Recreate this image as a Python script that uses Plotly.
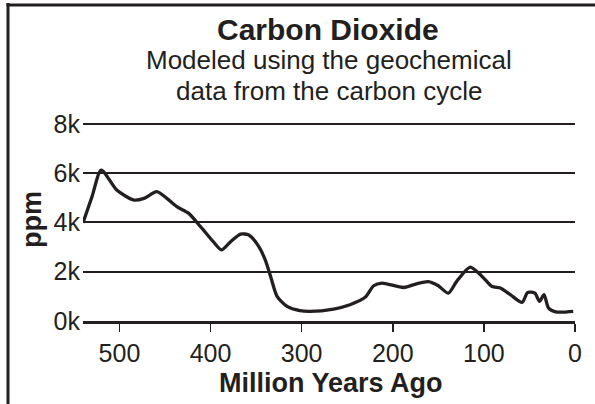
import plotly.graph_objects as go

# Data (million years ago, CO2 ppm)
ma = [540, 530, 520, 503, 484, 473, 459, 448, 437, 424, 411, 397, 388, 378, 367, 358,
      347, 340, 334, 327, 316, 302, 291, 265, 247, 230, 221, 212, 188, 174, 161, 150,
      139, 130, 115, 102, 91, 82, 71, 58, 52, 44, 39, 34, 29, 20, 2]
ppm = [3990, 5060, 6130, 5320, 4910, 4980, 5250, 4980, 4640, 4370, 3830, 3220, 2890, 3220,
       3530, 3490, 3020, 2480, 1800, 1000, 590, 420, 390, 485, 660, 970, 1430, 1540, 1360,
       1510, 1600, 1430, 1130, 1600, 2190, 1810, 1400, 1340, 1070, 755, 1160, 1130, 795,
       1070, 525, 365, 390]

x_ticks = [500, 400, 300, 200, 100, 0]
y_ticks = [0, 2000, 4000, 6000, 8000]
y_ticktext = ["0k", "2k", "4k", "6k", "8k"]

title = "Carbon Dioxide"
subtitle1 = "Modeled using the geochemical"
subtitle2 = "data from the carbon cycle"
x_title = "Million Years Ago"
y_title = "ppm"

INK = "#231f20"
FONT = "Liberation Sans, Arial, sans-serif"

fig = go.Figure()
fig.add_trace(go.Scatter(
    x=ma, y=ppm, mode="lines",
    line=dict(color=INK, width=3.3, shape="spline", smoothing=0.7),
    hoverinfo="skip", showlegend=False,
))

W, H = 595, 404
L, R, T, B = 83, 20, 122, 83
pw, ph = W - L - R, H - T - B

def px_x(px):
    return (px - L) / pw

def px_y(py):
    return (H - B - py) / ph

fig.update_layout(
    width=W, height=H,
    margin=dict(l=L, r=R, t=T, b=B, pad=0, autoexpand=False),
    paper_bgcolor="white", plot_bgcolor="white",
    font=dict(family=FONT, color=INK),
    showlegend=False,
    xaxis=dict(
        range=[540, 0], tickvals=x_ticks, ticktext=[str(v) for v in x_ticks],
        showgrid=False, zeroline=False, automargin=False,
        showline=True, linecolor=INK, linewidth=2.5,
        ticks="outside", ticklen=8, tickwidth=1.5, tickcolor=INK,
        tickfont=dict(size=25, color=INK, family=FONT),
    ),
    yaxis=dict(
        range=[0, 8080], tickvals=y_ticks, ticktext=y_ticktext,
        showgrid=True, gridcolor=INK, gridwidth=2, automargin=False,
        zeroline=False, showline=False, ticks="",
        tickfont=dict(size=25, color=INK, family=FONT),
        ticklabelstandoff=2,
    ),
    annotations=[
        dict(text="<b>%s</b>" % title, x=px_x(328), y=px_y(29), xref="paper", yref="paper",
             showarrow=False, xanchor="center", yanchor="middle",
             font=dict(size=30, color=INK, family=FONT)),
        dict(text=subtitle1, x=px_x(329), y=px_y(60), xref="paper", yref="paper",
             showarrow=False, xanchor="center", yanchor="middle",
             font=dict(size=26, color=INK, family=FONT)),
        dict(text=subtitle2, x=px_x(329), y=px_y(91), xref="paper", yref="paper",
             showarrow=False, xanchor="center", yanchor="middle",
             font=dict(size=26, color=INK, family=FONT)),
        dict(text="<b>%s</b>" % x_title, x=px_x(331), y=px_y(383), xref="paper", yref="paper",
             showarrow=False, xanchor="center", yanchor="middle",
             font=dict(size=27, color=INK, family=FONT)),
        dict(text="<b>%s</b>" % y_title, x=px_x(32), y=px_y(220), xref="paper", yref="paper",
             showarrow=False, xanchor="center", yanchor="middle", textangle=-90,
             font=dict(size=27, color=INK, family=FONT)),
    ],
    shapes=[
        dict(type="line", xref="paper", yref="paper",
             x0=px_x(8), x1=px_x(8), y0=px_y(3), y1=px_y(410),
             line=dict(color=INK, width=3)),
        dict(type="line", xref="paper", yref="paper",
             x0=px_x(6.5), x1=px_x(600), y0=px_y(5), y1=px_y(5),
             line=dict(color=INK, width=3)),
    ],
)

fig.write_html(
    "out.html",
    config={"displayModeBar": False, "staticPlot": True},
    post_script="document.body.style.margin='0';document.body.style.padding='0';"
                "document.body.style.overflow='hidden';",
)
